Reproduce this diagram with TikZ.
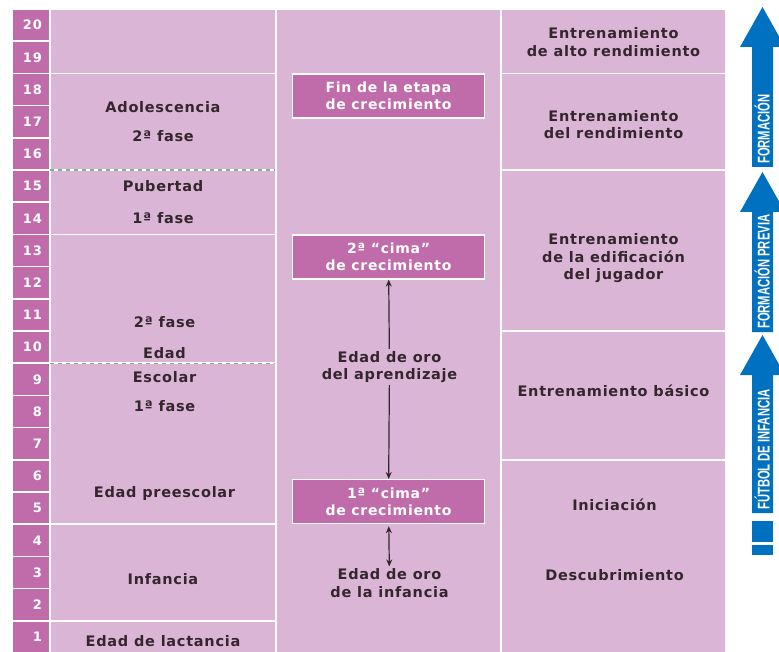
\documentclass[tikz,border=0pt]{standalone}
\usepackage{fontspec}
\newfontfamily\tabfont{DejaVu Sans}[LetterSpace=5]
\newfontfamily\numfont{DejaVu Sans}[LetterSpace=8]
\newfontfamily\bandfont{Liberation Sans}
\usetikzlibrary{positioning,arrows.meta}

\definecolor{lightpink}{HTML}{DBB5D6}
\definecolor{darkpink}{HTML}{C06CAA}
\definecolor{txtgray}{HTML}{33262D}
\definecolor{bandblue}{HTML}{0070C0}
\definecolor{dashteal}{HTML}{6FB5A8}

\def\rowh{32.2}
\newcommand{\cond}[1]{\scalebox{0.66}[1]{#1}}

\begin{document}
\begin{tikzpicture}[
    x=1pt, y=-1pt,
 cell/.style = {
        draw=white, line width=1.5pt, fill=lightpink,
        inner sep=0pt, outer sep=0pt, anchor=north west},
 numcell/.style = {
        draw=white, line width=1.5pt, fill=darkpink,
        minimum width=38pt, minimum height=\rowh pt,
        text width=22pt, inner xsep=8pt, inner ysep=0pt, outer sep=0pt,
        anchor=north west, align=right, text=white,
        font=\numfont\bfseries\fontsize{13}{14}\selectfont},
 pinkbox/.style = {
        draw=white, line width=1.2pt, fill=darkpink,
        minimum width=192pt, minimum height=44pt, inner sep=0pt,
        align=center, text=white,
        font=\tabfont\bfseries\fontsize{14}{17}\selectfont},
 txt/.style = {
        inner sep=2pt, align=center, text=txtgray,
        font=\tabfont\bfseries\fontsize{14.5}{17.5}\selectfont},
 bandtext/.style = {
        rotate=90, anchor=west, inner sep=0pt, text=white,
        text height=12.2pt, text depth=0pt,
        font=\bandfont\bfseries\fontsize{17}{17}\selectfont},
 dashline/.style = {dashteal, line width=1.2pt, dash pattern=on 4pt off 4pt},
 arrow/.style = {line width=1.2pt, txtgray,
        -{Stealth[length=7pt, width=6pt]}},
 dblarrow/.style = {line width=1.2pt, txtgray,
        {Stealth[length=7pt, width=6pt]}-{Stealth[length=7pt, width=6pt]}}
                    ]
\clip (0,0) rectangle (779,652);
% the age column
\foreach \n in {1,...,20}
    \node[numcell] (y\n) at (12,{9+(20-\n)*\rowh}) {\n};
% stages of development
\node (c2a) [cell, minimum width=226pt, minimum height=2*\rowh pt] at (y20.north east) {};
\node (c2b) [cell, minimum width=226pt, minimum height=3*\rowh pt, below=0pt of c2a] {};
\node (c2c) [cell, minimum width=226pt, minimum height=2*\rowh pt, below=0pt of c2b] {};
\node (c2d) [cell, minimum width=226pt, minimum height=9*\rowh pt, below=0pt of c2c] {};
\node (c2e) [cell, minimum width=226pt, minimum height=3*\rowh pt, below=0pt of c2d] {};
\node (c2f) [cell, minimum width=226pt, minimum height=\rowh pt, below=0pt of c2e] {};
\node (ado) [txt] at (c2b) {Adolescencia\\[12pt]2ª fase};
\node (pub) [txt] at (c2c) {Pubertad\\[14pt]1ª fase};
\node (f2)  [txt] at (164.5,322) {2ª fase};
\node (ed)  [txt] at (164.5,353) {Edad};
\node (esc) [txt] at (164.5,377) {Escolar};
\node (f1)  [txt] at (164.5,406) {1ª fase};
\node (pre) [txt] at (164.5,493) {Edad preescolar};
\node (inf) [txt, yshift=-7pt] at (c2e) {Infancia};
\node (lac) [txt, yshift=-4pt] at (c2f) {Edad de lactancia};
\draw[dashline] (c2b.south west) -- (c2b.south east);
\draw[white, line width=1.5pt] (c2d.west |- y10.south) -- (c2d.east |- y10.south);
\draw[dashline] (c2d.west |- y10.south) -- (c2d.east |- y10.south);
% growth column
\node (c3) [cell, minimum width=225pt, minimum height=20*\rowh pt] at (c2a.north east) {};
\node (fin)   [pinkbox, anchor=north] at (c3.center |- y18.north) {Fin de la etapa\\de crecimiento};
\node (cima2) [pinkbox, anchor=north] at (c3.center |- y13.north) {2ª “cima”\\de crecimiento};
\node (cima1) [pinkbox, anchor=south] at (c3.center |- y5.south) {1ª “cima”\\de crecimiento};
\node (oro1) [txt] at (389.5,367) {Edad de oro\\del aprendizaje};
\node (oro2) [txt] at (389.5,583) {Edad de oro\\de la infancia};
\draw[arrow] (oro1) -- (cima2);
\draw[arrow] (oro1) -- (cima1);
\draw[dblarrow, shorten <=2pt] (cima1) -- (oro2);
% training column
\node (c4a) [cell, minimum width=225pt, minimum height=2*\rowh pt] at (c3.north east) {};
\node (c4b) [cell, minimum width=225pt, minimum height=3*\rowh pt, below=0pt of c4a] {};
\node (c4c) [cell, minimum width=225pt, minimum height=5*\rowh pt, below=0pt of c4b] {};
\node (c4d) [cell, minimum width=225pt, minimum height=4*\rowh pt, below=0pt of c4c] {};
\node (c4e) [cell, minimum width=225pt, minimum height=6*\rowh pt, below=0pt of c4d] {};
\node (alto) [txt, yshift=-1pt] at (c4a) {Entrenamiento\\de alto rendimiento};
\node (rend) [txt, yshift=-3pt] at (c4b) {Entrenamiento\\del rendimiento};
\node (edif) [txt, yshift=-8pt] at (c4c) {Entrenamiento\\de la edificación\\del jugador};
\node (basi) [txt, yshift=5pt]  at (c4d) {Entrenamiento básico};
\node (ini)  [txt] at (614.5,505) {Iniciación};
\node (des)  [txt] at (614.5,575) {Descubrimiento};
% the blue arrows on the right
\foreach \tip/\bot/\lab [count=\i] in {7/167/FORMACIÓN, 172/332/FORMACIÓN PREVIA, 335/513/FÚTBOL DE INFANCIA} {
    \fill[bandblue] (752,\bot) -- (752,\tip+40) -- (740,\tip+40) -- (762.5,\tip)
        -- (785,\tip+40) -- (773,\tip+40) -- (773,\bot) -- cycle;
    \node (band\i) [bandtext] at (763.5,\bot-3) {\cond{\lab}};
}
\fill[bandblue] (752,521) rectangle (773,542);
\fill[bandblue] (752,545) rectangle (773,555);
\end{tikzpicture}
\end{document}
